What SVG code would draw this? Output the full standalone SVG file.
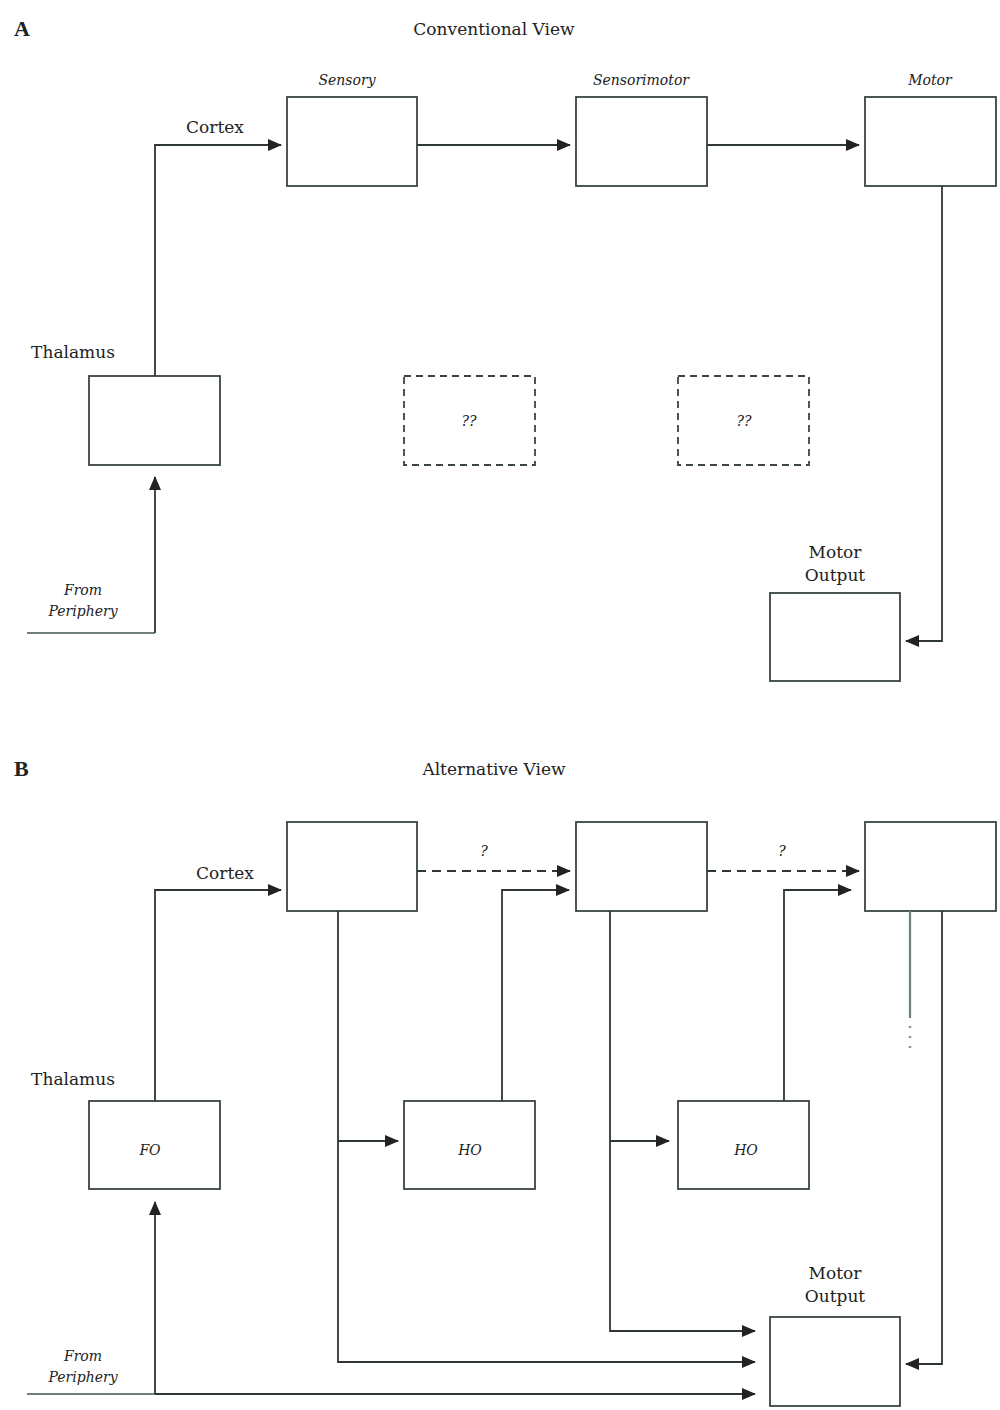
<svg xmlns="http://www.w3.org/2000/svg" width="1000" height="1410" viewBox="0 0 1000 1410">
<style>
.b{fill:#fff;stroke:#3a4444;stroke-width:1.8}
.d{fill:#fff;stroke:#3a4444;stroke-width:1.8;stroke-dasharray:7,5}
.c{fill:none;stroke:#2f3636;stroke-width:1.8}
.g{fill:none;stroke:#6f7f7f;stroke-width:2.2}
.t{font-family:"DejaVu Serif","Liberation Serif",serif;font-size:17px;fill:#222;text-anchor:middle}
.i{font-family:"DejaVu Serif","Liberation Serif",serif;font-size:14px;font-style:italic;fill:#222;text-anchor:middle}
.h{font-family:"Liberation Serif",serif;font-size:22px;font-weight:bold;fill:#222}
</style>
<defs><marker id="a" markerWidth="14" markerHeight="12" refX="13" refY="6" orient="auto" markerUnits="userSpaceOnUse"><path d="M0,0L14,6L0,12z" fill="#222"/></marker></defs>
<text class="h" x="14" y="36">A</text>
<text class="t" x="494" y="35">Conventional View</text>
<text class="h" x="14" y="776">B</text>
<text class="t" x="494" y="775">Alternative View</text>
<g id="labels">
<text class="i" x="347" y="85">Sensory</text>
<text class="i" x="641" y="85">Sensorimotor</text>
<text class="i" x="930" y="85">Motor</text>
<text class="t" x="215" y="133">Cortex</text>
<text class="t" x="73" y="358">Thalamus</text>
<text class="t" x="835" y="558">Motor</text>
<text class="t" x="835" y="581">Output</text>
<text class="i" x="83" y="595">From</text>
<text class="i" x="83" y="616">Periphery</text>
<text class="t" x="225" y="879">Cortex</text>
<text class="t" x="73" y="1085">Thalamus</text>
<text class="t" x="835" y="1279">Motor</text>
<text class="t" x="835" y="1302">Output</text>
<text class="i" x="83" y="1361">From</text>
<text class="i" x="83" y="1382">Periphery</text>
<text class="i" x="484" y="856">?</text>
<text class="i" x="782" y="856">?</text>
</g>
<g id="nA_sensory"><rect class="b" x="287" y="97" width="130" height="89"/></g>
<g id="nA_sensorimotor"><rect class="b" x="576" y="97" width="131" height="89"/></g>
<g id="nA_motor"><rect class="b" x="865" y="97" width="131" height="89"/></g>
<g id="nA_thalamus"><rect class="b" x="89" y="376" width="131" height="89"/></g>
<g id="nA_q1"><rect class="d" x="404" y="376" width="131" height="89"/><text class="i" x="469" y="426">??</text></g>
<g id="nA_q2"><rect class="d" x="678" y="376" width="131" height="89"/><text class="i" x="744" y="426">??</text></g>
<g id="nA_output"><rect class="b" x="770" y="593" width="130" height="88"/></g>
<g id="nB_sensory"><rect class="b" x="287" y="822" width="130" height="89"/></g>
<g id="nB_sensorimotor"><rect class="b" x="576" y="822" width="131" height="89"/></g>
<g id="nB_motor"><rect class="b" x="865" y="822" width="131" height="89"/></g>
<g id="nB_fo"><rect class="b" x="89" y="1101" width="131" height="88"/><text class="i" x="150" y="1155">FO</text></g>
<g id="nB_ho1"><rect class="b" x="404" y="1101" width="131" height="88"/><text class="i" x="470" y="1155">HO</text></g>
<g id="nB_ho2"><rect class="b" x="678" y="1101" width="131" height="88"/><text class="i" x="746" y="1155">HO</text></g>
<g id="nB_output"><rect class="b" x="770" y="1317" width="130" height="89"/></g>
<g id="connectors">
<path class="c" d="M155,376V145H281" marker-end="url(#a)"/>
<path class="c" d="M417,145H570" marker-end="url(#a)"/>
<path class="c" d="M707,145H859" marker-end="url(#a)"/>
<path class="c" d="M942,186V641H906" marker-end="url(#a)"/>
<path class="g" d="M27,633H155"/>
<path class="c" d="M155,633V477" marker-end="url(#a)"/>
<path class="c" d="M155,1101V890H281" marker-end="url(#a)"/>
<path class="c" d="M417,871H570" stroke-dasharray="9,6" marker-end="url(#a)"/>
<path class="c" d="M707,871H859" stroke-dasharray="9,6" marker-end="url(#a)"/>
<path class="c" d="M502,1101V890H569" marker-end="url(#a)"/>
<path class="c" d="M784,1101V890H851" marker-end="url(#a)"/>
<path class="c" d="M338,911V1362H755" marker-end="url(#a)"/>
<path class="c" d="M338,1141H398" marker-end="url(#a)"/>
<path class="c" d="M610,911V1331H755" marker-end="url(#a)"/>
<path class="c" d="M610,1141H669" marker-end="url(#a)"/>
<path class="c" d="M942,911V1364H906" marker-end="url(#a)"/>
<path class="g" d="M910,911V1018"/>
<path d="M910,1026V1050" stroke="#8a9a9a" stroke-width="2.5" stroke-dasharray="2,8" fill="none"/>
<path class="g" d="M27,1394H155"/>
<path class="c" d="M155,1394H755" marker-end="url(#a)"/>
<path class="c" d="M155,1394V1202" marker-end="url(#a)"/>
</g>
</svg>
